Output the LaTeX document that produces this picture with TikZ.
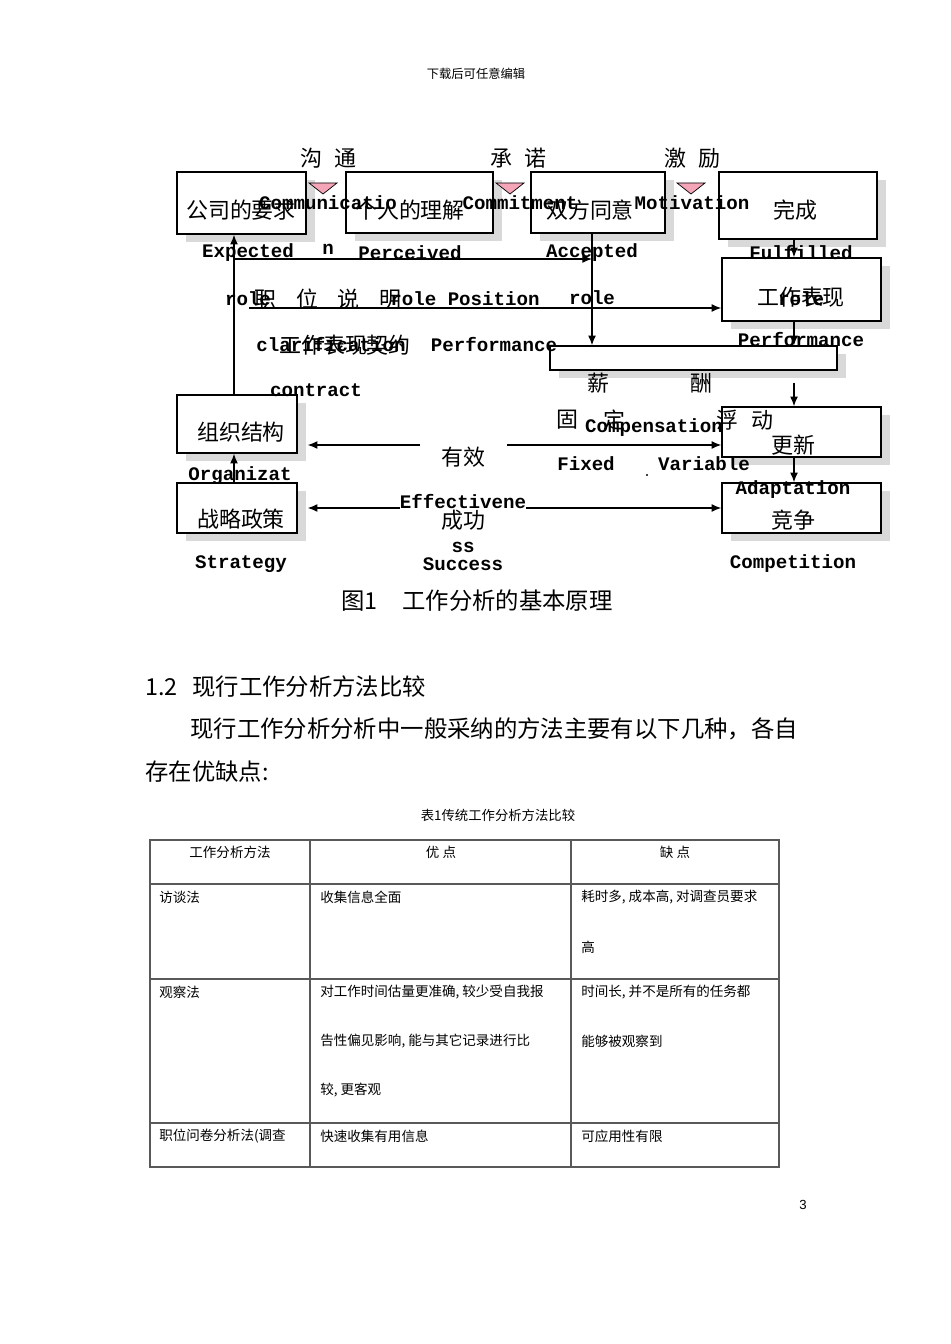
\documentclass[tikz,border=0pt]{standalone}
\usepackage{fontspec}
\setmainfont{Noto Sans CJK SC}
\newfontfamily\monofnt{Liberation Mono}
\newfontfamily\numfnt{Liberation Sans}
\usepackage{tikz}
\usetikzlibrary{calc,positioning,arrows,arrows.meta,shapes,shadows}
\definecolor{tripink}{RGB}{244,166,184}
\definecolor{shade}{RGB}{217,217,217}

\begin{document}
\begin{tikzpicture}[x=0.02cm,y=-0.02cm,>={Latex[length=5.5pt,width=4.5pt]},
  box/.style={draw,fill=white,line width=0.9pt,inner sep=0pt,
    drop shadow={shadow xshift=0.18cm,shadow yshift=-0.16cm,fill=shade,opacity=1}},
  zh/.style={font=\fontsize{12.5}{14}\selectfont,inner sep=0pt},
  en/.style={font=\monofnt\bfseries\fontsize{10.9}{12}\selectfont,inner sep=0pt},
  txt/.style={font=\fontsize{13.3}{15}\selectfont,inner sep=0pt,anchor=west},
  cell/.style={font=\fontsize{7.7}{9}\selectfont,inner sep=0pt,anchor=west},
  link/.style={line width=0.6pt},
  rule/.style={draw=black!65,line width=0.6pt}]
\useasboundingbox (0,0) rectangle (950,1344);

% page head
\node[cell,anchor=center,font=\fontsize{7}{8}\selectfont] (head) at (476,74) {下载后可任意编辑};

% boxes of figure 1
\node[box,minimum width=2.58cm,minimum height=1.24cm] (expect) at (241.5,203) {};
\node[box,minimum width=2.94cm,minimum height=1.22cm] (perceive) at (419.5,202.5) {};
\node[box,minimum width=2.68cm,minimum height=1.22cm] (accept) at (598,202.5) {};
\node[box,minimum width=3.16cm,minimum height=1.34cm] (fulfil) at (798,205.5) {};
\node[box,minimum width=3.18cm,minimum height=1.26cm] (perform) at (801.5,289.5) {};
\node[box,minimum width=5.74cm,minimum height=0.48cm] (pay) at (693.5,358) {};
\node[box,minimum width=3.18cm,minimum height=1cm] (adapt) at (801.5,432) {};
\node[box,minimum width=3.18cm,minimum height=1cm] (compete) at (801.5,508) {};
\node[box,minimum width=2.4cm,minimum height=1.16cm] (organ) at (237,424) {};
\node[en] (organen) at (240,476) {Organizat};
\node[box,minimum width=2.4cm,minimum height=1cm] (strat) at (237,508) {};

% pink markers
\foreach \m in {323,510,691}
  \draw[fill=tripink,line width=0.4pt] (\m-14,183) -- (\m+14,183) -- (\m,194) -- cycle;

% connectors
\coordinate (trunk) at (234,0);
\coordinate (acline) at (592,0);
\coordinate (rcol) at (794,0);
\coordinate (row1) at (0,259);
\coordinate (posfrom) at (249,308);
\coordinate (payout) at (794,383);
\coordinate (effgap1) at (420,445);
\coordinate (effgap2) at (507,445);
\coordinate (row2) at (0,508);
\coordinate (orgside) at ([xshift=0.2cm]organ.east);
\coordinate (stratside) at ([xshift=0.2cm]strat.east);

\path[->,link] (organ.north -| trunk) edge (expect.south -| trunk)
  (strat.north -| trunk) edge (organ.south -| trunk)
  (trunk |- row1) edge (acline |- row1)
  (accept.south -| acline) edge (pay.north -| acline)
  (posfrom) edge (perform.west |- posfrom)
  (fulfil.south -| rcol) edge (perform.north -| rcol)
  (perform.south -| rcol) edge (pay.north -| rcol)
  (payout) edge (adapt.north -| rcol)
  (adapt.south -| rcol) edge (compete.north -| rcol)
  (effgap2) edge (adapt.west |- effgap2)
  (effgap1) edge (orgside |- effgap1);
\path[<->,link] (stratside |- row2) edge (compete.west |- row2);
\fill (647,475) circle (1.2);

% chinese labels
\node[zh] (goutong) at (328,158) {沟\hspace{0.55em}通};
\node[zh] (chengnuo) at (518,158) {承\hspace{0.55em}诺};
\node[zh] (jili) at (692,158) {激\hspace{0.55em}励};
\node[zh] (expzh) at (241,210) {公司的要求};
\node[zh] (perzh) at (410,210) {个人的理解};
\node[zh] (acczh) at (590,210) {双方同意};
\node[zh] (fulzh) at (795,210) {完成};
\node[zh] (perfzh) at (801,297) {工作表现};
\node[zh] (zwsm) at (328,299) {职\hspace{0.9em}位\hspace{0.9em}说\hspace{0.9em}明};
\node[zh] (contractzh) at (345,345) {工作表现契约};
\node[zh] (xin) at (598,383) {薪};
\node[zh] (chou) at (701,383) {酬};
\node[zh] (gu) at (567,420) {固};
\node[zh] (ding) at (614,420) {定};
\node[zh] (fudong) at (745,420) {浮\hspace{0.6em}动};
\node[zh] (gengxin) at (793,445) {更新};
\node[zh] (jingzheng) at (793,520) {竞争};
\node[zh] (zuzhi) at (241,432) {组织结构};
\node[zh] (zhanlue) at (241,519) {战略政策};
\node[zh] (youxiao) at (463,457) {有效};

% english labels
\node[en] (comm) at (328,203) {Communicatio};
\node[en] (commn) at (328,249) {n};
\node[en] (commit) at (520,203) {Commitment};
\node[en] (motiv) at (692,203) {Motivation};
\node[en] (expen) at (248,253) {Expected};
\node[en] (peren) at (410,253) {Perceived};
\node[en] (accen) at (592,253) {Accepted};
\node[en] (fulen) at (801,253) {Fulfilled};
\node[en] (role1) at (248,299) {role};
\node[en] (posen) at (465,299) {role Position};
\node[en] (role3) at (592,298) {role};
\node[en] (role4) at (801,299) {role};
\node[en] (clar) at (331,345) {clarification};
\node[en] (perfen) at (494,345) {Performance};
\node[en] (contr) at (316,390) {contract};
\node[en] (perfen2) at (801,340) {Performance};
\node[en] (compen) at (654,428) {Compensation};
\node[en] (fixed) at (586,464) {Fixed};
\node[en] (variab) at (704,464) {Variable};
\node[en] (adapten) at (793,490) {Adaptation};
\node[en] (competen) at (793,564) {Competition};
\node[en] (straten) at (241,564) {Strategy};
\node[en,fill=white] (effen) at (463,502) {Effectivene};
\node[zh] (chenggong) at (463,520) {成功};
\node[en] (ss) at (463,547) {ss};
\node[en] (succ) at (463,564) {Success};

% caption and text
\node[txt] (figno) at (341,601) {图1};
\node[txt] (figcap) at (402,601) {工作分析的基本原理};
\node[txt] (secno) at (145,687) {1.2};
\node[txt] (sectitle) at (192,687) {现行工作分析方法比较};
\node[txt] (para1) at (190,729) {现行工作分析分析中一般采纳的方法主要有以下几种，各自};
\node[txt] (para2) at (145,772) {存在优缺点:};
\node[cell,anchor=center,font=\fontsize{7.6}{9}\selectfont] (tabcap) at (498,815) {表1传统工作分析方法比较};

% table 1
\draw[rule] (150,840) rectangle (779,1167);
\foreach \y in {884,979,1123} \draw[rule] (150,\y) -- (779,\y);
\foreach \x in {310,571} \draw[rule] (\x,840) -- (\x,1167);

\node[cell,anchor=center] (h1) at (230,852) {工作分析方法};
\node[cell,anchor=center] (h2) at (441,852) {优 点};
\node[cell,anchor=center] (h3) at (675,852) {缺 点};
\node[cell] (r1a) at (159,897) {访谈法};
\node[cell] (r1b) at (320,897) {收集信息全面};
\node[cell] (r1c) at (581,897) {耗时多, 成本高, 对调查员要求};
\node[cell] (r1d) at (581,947) {高};
\node[cell] (r2a) at (159,992) {观察法};
\node[cell] (r2b) at (320,992) {对工作时间估量更准确, 较少受自我报};
\node[cell] (r2c) at (320,1041) {告性偏见影响, 能与其它记录进行比};
\node[cell] (r2d) at (320,1090) {较, 更客观};
\node[cell] (r2e) at (581,992) {时间长, 并不是所有的任务都};
\node[cell] (r2f) at (581,1041) {能够被观察到};
\node[cell] (r3a) at (159,1136) {职位问卷分析法(调查};
\node[cell] (r3b) at (320,1136) {快速收集有用信息};
\node[cell] (r3c) at (581,1136) {可应用性有限};
\node[font=\numfnt\fontsize{7.5}{9}\selectfont,inner sep=0pt] (pageno) at (803,1205) {3};
\end{tikzpicture}
\end{document}
